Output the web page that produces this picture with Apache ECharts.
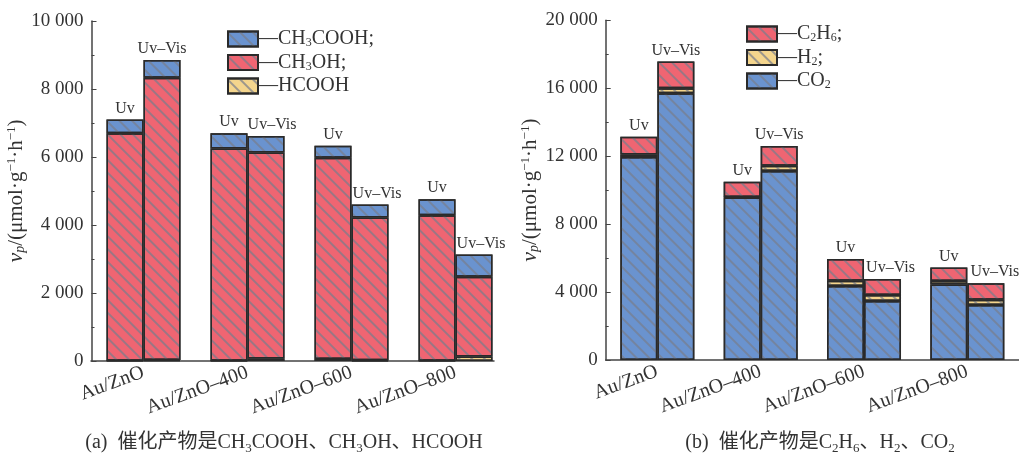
<!DOCTYPE html>
<html lang="zh">
<head>
<meta charset="UTF-8">
<title>催化产物</title>
<script src="https://cdn.jsdelivr.net/npm/echarts@6/dist/echarts.min.js"></script>
<style>
    html, body { margin: 0; padding: 0; background: #fff; }
    #main { width: 1019px; height: 453px; }
</style>
</head>
<body>
<div id="main"></div>
<script>
// 分类
var categories = ['Au/ZnO', 'Au/ZnO–400', 'Au/ZnO–600', 'Au/ZnO–800'];
// (a) Uv 与 Uv–Vis
var hcoohUv = [10, 10, 60, 10];
var ch3ohUv = [6690, 6240, 5920, 4280];
var ch3coohUv = [400, 450, 350, 470];
var hcoohVis = [30, 70, 20, 130];
var ch3ohVis = [8300, 6060, 4200, 2350];
var ch3coohVis = [520, 490, 380, 650];
// (b)
var co2Uv = [11950, 9570, 4360, 4450];
var h2Uv = [150, 20, 310, 200];
var c2h6Uv = [1050, 910, 1280, 790];
var co2Vis = [15700, 11130, 3470, 3240];
var h2Vis = [300, 310, 360, 300];
var c2h6Vis = [1570, 1160, 940, 980];

var FONT = "'Liberation Serif', 'Noto Sans CJK SC', serif";
var BLUE = '#6a93cf', RED = '#ef6572', YELLOW = '#f4d58d';

var decal = {
    symbol: 'rect',
    symbolSize: 1,
    color: 'rgba(120,125,140,0.7)',
    dashArrayX: [1, 0],
    dashArrayY: [1.6, 6.2],
    rotation: Math.PI / 4
};

function fmtNum(v) {
    return String(v).replace(/\B(?=(\d{3})+(?!\d))/g, ' ');
}

// 顶部标签（Uv / Uv–Vis），shift 为个别标签的水平偏移
function makeBar(name, stack, xIdx, yIdx, values, color, topLabel, shift) {
    var s = {
        type: 'bar',
        name: name,
        stack: stack,
        xAxisIndex: xIdx,
        yAxisIndex: yIdx,
        barWidth: 37,
        barGap: '0%',
        data: values.slice(),
        itemStyle: {
            color: color,
            borderColor: '#2a2a2a',
            borderWidth: 1.5,
            decal: decal
        }
    };
    if (topLabel) {
        s.label = {
            show: true,
            position: 'top',
            distance: 3,
            formatter: topLabel,
            fontFamily: FONT,
            fontSize: 16,
            color: '#333'
        };
        if (shift) {
            s.data = values.map(function (v, i) {
                return { value: v, label: { offset: [shift[i], 0] } };
            });
        }
    }
    return s;
}

var richSub = {
    s: { fontFamily: FONT, fontSize: 12, verticalAlign: 'bottom', lineHeight: 20, color: '#333' }
};

function catAxis(grid, showLine) {
    return {
        gridIndex: grid,
        type: 'category',
        data: categories,
        axisLine: { show: showLine, lineStyle: { color: '#444', width: 1.5 } },
        axisTick: { show: false },
        axisLabel: {
            rotate: 20,
            margin: 11,
            fontFamily: FONT,
            fontSize: 20,
            color: '#333'
        }
    };
}

function yAxisOf(grid, max, interval, gap) {
    return {
        gridIndex: grid,
        type: 'value',
        min: 0,
        max: max,
        interval: interval,
        splitLine: { show: false },
        axisLine: { show: true, lineStyle: { color: '#444', width: 1.5 } },
        axisTick: { show: true, inside: true, length: 5, lineStyle: { color: '#444' } },
        minorTick: { show: true, splitNumber: 2, length: 3, lineStyle: { color: '#444' } },
        axisLabel: {
            formatter: fmtNum,
            fontFamily: FONT,
            fontSize: 19,
            color: '#333',
            margin: 8
        },
        name: '{i|v}{p|p}{n|/(μmol·g}{u|−1}{n|·h}{u|−1}{n|)}',
        nameLocation: 'middle',
        nameGap: gap,
        nameTextStyle: {
            rich: {
                i: { fontFamily: FONT, fontSize: 22, fontStyle: 'italic', color: '#333' },
                p: { fontFamily: FONT, fontSize: 14, fontStyle: 'italic', verticalAlign: 'bottom', color: '#333' },
                n: { fontFamily: FONT, fontSize: 21, color: '#333' },
                u: { fontFamily: FONT, fontSize: 13, verticalAlign: 'top', color: '#333' }
            }
        }
    };
}

var legendNames = {
    'CH3COOH': '—CH{s|3}COOH;',
    'CH3OH': '—CH{s|3}OH;',
    'HCOOH': '—HCOOH',
    'C2H6': '—C{s|2}H{s|6};',
    'H2': '—H{s|2};',
    'CO2': '—CO{s|2}'
};

function legendOf(data, left, top, gap) {
    return {
        data: data,
        orient: 'vertical',
        left: left,
        top: top,
        padding: 0,
        icon: 'rect',
        itemWidth: 30,
        itemHeight: 15,
        itemGap: gap,
        selectedMode: false,
        formatter: function (n) { return legendNames[n]; },
        textStyle: {
            fontFamily: FONT, fontSize: 20, color: '#333', lineHeight: 20,
            padding: [0, 0, 0, -5], rich: richSub
        }
    };
}

var captionRich = { s: { fontFamily: FONT, fontSize: 13, verticalAlign: 'bottom', lineHeight: 24, color: '#333' } };

var myChart = echarts.init(document.getElementById('main'));
var option = {
    animation: false,
    grid: [
        { left: 91.5, right: 511.5, top: 21, bottom: 92 },  // (a) 柱
        { left: 91, right: 525, top: 21, bottom: 92 },      // (a) 横轴线
        { left: 605.7, right: -2.7, top: 20.3, bottom: 93 } // (b)
    ],
    xAxis: [
        catAxis(0, false),
        {
            gridIndex: 1, type: 'value', min: 0, max: 1,
            axisLine: { show: true, lineStyle: { color: '#444', width: 1.5 } },
            axisTick: { show: false }, axisLabel: { show: false }, splitLine: { show: false }
        },
        catAxis(2, true)
    ],
    yAxis: [
        yAxisOf(0, 10000, 2000, 50),
        { gridIndex: 1, type: 'value', min: 0, max: 1, show: false },
        yAxisOf(2, 20000, 4000, 54)
    ],
    legend: [
        legendOf(['CH3COOH', 'CH3OH', 'HCOOH'], 227, 29, 3.5),
        legendOf(['C2H6', 'H2', 'CO2'], 746, 24, 3.5)
    ],
    title: [
        {
            text: '(a)  催化产物是CH{s|3}COOH、CH{s|3}OH、HCOOH',
            left: 284, top: 431, textAlign: 'center', padding: 0,
            textStyle: { fontFamily: FONT, fontSize: 20, fontWeight: 'normal', color: '#333', rich: captionRich }
        },
        {
            text: '(b)  催化产物是C{s|2}H{s|6}、H{s|2}、CO{s|2}',
            left: 820, top: 431, textAlign: 'center', padding: 0,
            textStyle: { fontFamily: FONT, fontSize: 20, fontWeight: 'normal', color: '#333', rich: captionRich }
        }
    ],
    series: [
        // (a)
        makeBar('HCOOH', 'a-uv', 0, 0, hcoohUv, YELLOW),
        makeBar('CH3OH', 'a-uv', 0, 0, ch3ohUv, RED),
        makeBar('CH3COOH', 'a-uv', 0, 0, ch3coohUv, BLUE, 'Uv'),
        makeBar('HCOOH', 'a-vis', 0, 0, hcoohVis, YELLOW),
        makeBar('CH3OH', 'a-vis', 0, 0, ch3ohVis, RED),
        makeBar('CH3COOH', 'a-vis', 0, 0, ch3coohVis, BLUE, 'Uv–Vis', [0, 6, 7, 7]),
        // (b)
        makeBar('CO2', 'b-uv', 2, 2, co2Uv, BLUE),
        makeBar('H2', 'b-uv', 2, 2, h2Uv, YELLOW),
        makeBar('C2H6', 'b-uv', 2, 2, c2h6Uv, RED, 'Uv'),
        makeBar('CO2', 'b-vis', 2, 2, co2Vis, BLUE),
        makeBar('H2', 'b-vis', 2, 2, h2Vis, YELLOW),
        makeBar('C2H6', 'b-vis', 2, 2, c2h6Vis, RED, 'Uv–Vis', [0, 0, 8, 9])
    ]
};
myChart.setOption(option);
</script>
</body>
</html>
